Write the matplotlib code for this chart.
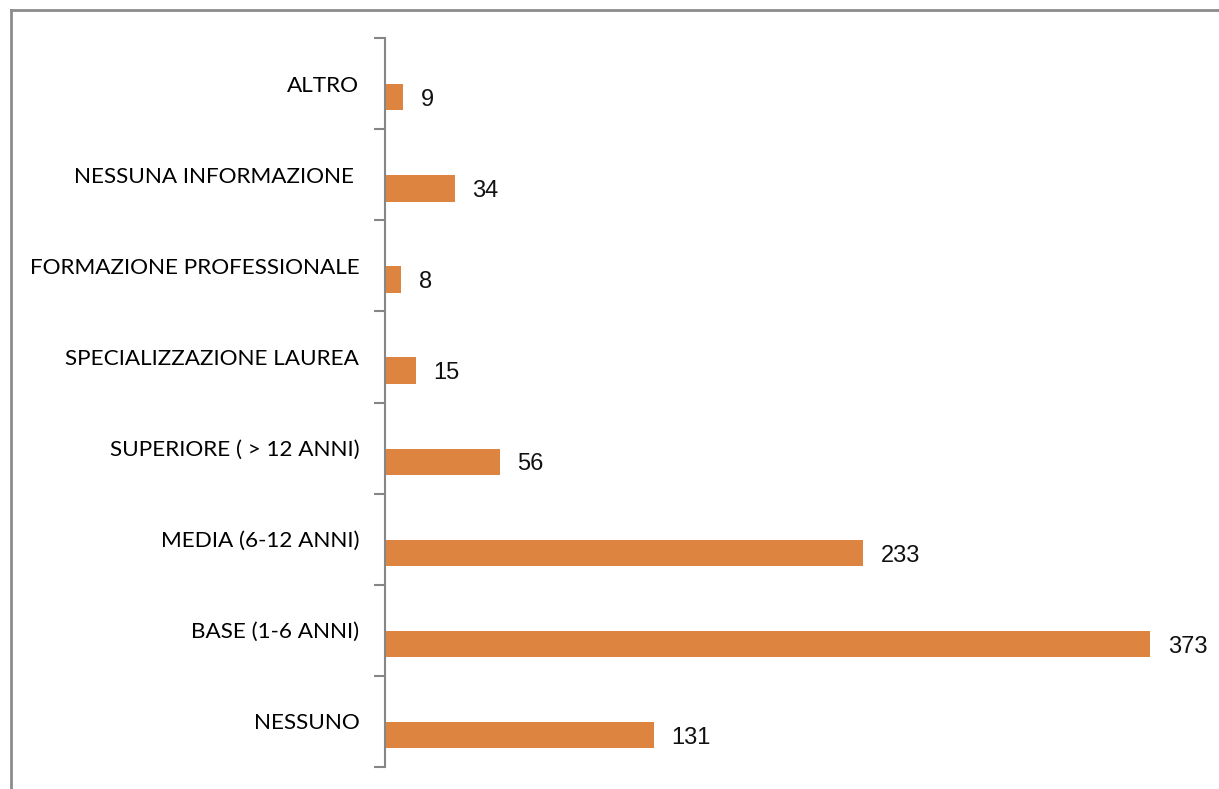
import matplotlib.pyplot as plt
from matplotlib.lines import Line2D

categories = ['NESSUNO', 'BASE (1-6 ANNI)', 'MEDIA (6-12 ANNI)', 'SUPERIORE ( > 12 ANNI)',
              'SPECIALIZZAZIONE LAUREA', 'FORMAZIONE PROFESSIONALE',
              'NESSUNA INFORMAZIONE ', 'ALTRO']
values = [131, 373, 233, 56, 15, 8, 34, 9]

fig = plt.figure(figsize=(12.19, 7.89), dpi=100)
W, H = 1219, 789
ax = fig.add_axes([385 / W, (H - 767) / H, (1216 - 385) / W, (767 - 38) / H])

pos = list(range(len(categories)))
bar_pos = [p - 0.15 for p in pos]
ax.barh(bar_pos, values, height=0.29, color='#DC8440')

for y, v in zip(bar_pos, values):
    ax.text(v + 8.5, y - 0.03, str(v), va='center', ha='left', fontsize=17,
            family='Liberation Sans', color='#111111')

ax.set_xlim(0, 405)
ax.set_ylim(-0.5, len(categories) - 0.5)

ax.set_yticks(pos)
ax.set_yticklabels(categories, fontsize=16.2, family='Lato')
ax.tick_params(axis='y', which='major', length=0, pad=18.5)
ax.set_yticks([p - 0.5 for p in range(len(categories) + 1)], minor=True)
ax.tick_params(axis='y', which='minor', length=8, width=1.5, color='#868686')
ax.set_xticks([])

for s in ['top', 'right', 'bottom']:
    ax.spines[s].set_visible(False)
ax.spines['left'].set_color('#868686')
ax.spines['left'].set_linewidth(1.5)

# outer chart frame (left and top edges)
fig.add_artist(Line2D([11 / W, 11 / W], [0, 1 - 10 / H], transform=fig.transFigure,
                      color='#8c8c8c', lw=2))
fig.add_artist(Line2D([11 / W, 1], [1 - 10 / H, 1 - 10 / H], transform=fig.transFigure,
                      color='#8c8c8c', lw=2))

fig.savefig('out.png', dpi=100)
